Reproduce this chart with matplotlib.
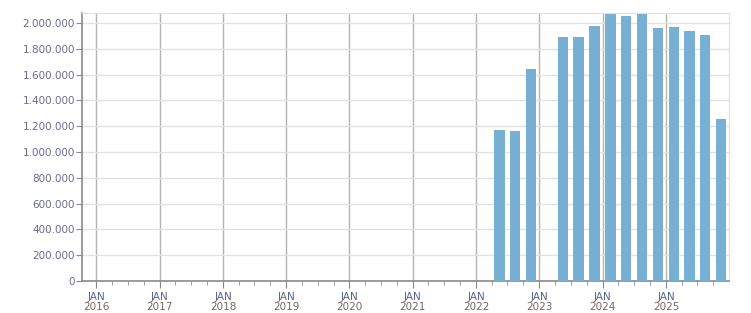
import numpy as np
import matplotlib
matplotlib.use("Agg")
import matplotlib.pyplot as plt
import matplotlib.dates as mdates
from matplotlib.ticker import FuncFormatter, MultipleLocator
import datetime as dt

# quarterly values (bar centred mid-quarter), Q1 2023 has no data
quarters = ["2022-Q2", "2022-Q3", "2022-Q4", "2023-Q2", "2023-Q3", "2023-Q4",
            "2024-Q1", "2024-Q2", "2024-Q3", "2024-Q4",
            "2025-Q1", "2025-Q2", "2025-Q3", "2025-Q4"]
values = [1170000, 1162000, 1645000, 1894000, 1894000, 1979000,
          2073000, 2057000, 2073000, 1964000,
          1971000, 1940000, 1909000, 1255000]
years = list(range(2016, 2026))


def quarter_mid(q):
    y, n = q.split("-Q")
    y, n = int(y), int(n)
    start = dt.date(y, 3 * (n - 1) + 1, 1)
    return start + dt.timedelta(days=45)


x = mdates.date2num([quarter_mid(q) for q in quarters])

fig = plt.figure(figsize=(7.51, 3.13), dpi=100)
ax = fig.add_axes([82 / 751, 32 / 313, (729 - 82) / 751, (281 - 13) / 313])

ax.bar(x, values, width=60, color="#77b0d2", zorder=3)

jan = mdates.date2num([dt.date(y, 1, 1) for y in years])
ax.set_xticks(jan)
ax.set_xticklabels(["JAN"] * len(years))
qmin = [mdates.date2num(dt.date(y, m, 1)) for y in range(2016, 2026) for m in (4, 7, 10)]
ax.set_xticks(qmin, minor=True)

ax.set_xlim(mdates.date2num(dt.date(2015, 10, 10)), mdates.date2num(dt.date(2025, 12, 31)))
ax.set_ylim(0, 2078000)

ax.yaxis.set_major_locator(MultipleLocator(200000))
ax.yaxis.set_major_formatter(FuncFormatter(lambda v, p: "{:,.0f}".format(v).replace(",", ".")))

ax.grid(axis="y", color="#e2e2e2", lw=1, zorder=0)
for j in jan:
    ax.axvline(j, color="#b4b4b4", lw=1, zorder=1)

# year line under each JAN label
for j, y in zip(jan, years):
    ax.text(j, -0.079, str(y), transform=ax.get_xaxis_transform(), ha="center", va="top",
            fontsize=7.5, color="#7a6458")

for s in ("top", "right"):
    ax.spines[s].set_color("#e0e0e0")
for s in ("left", "bottom"):
    ax.spines[s].set_color("#8a8a8a")
    ax.spines[s].set_linewidth(1.2)

ax.tick_params(axis="y", length=4, color="#8a8a8a", labelsize=7.5, labelcolor="#6a6a90", pad=1)
ax.tick_params(axis="x", which="major", length=5, color="#8a8a8a", labelsize=7.5, pad=3,
               labelcolor="#56648c")
ax.tick_params(axis="x", which="minor", length=3, color="#8a8a8a")

fig.savefig("out.png", dpi=100)
